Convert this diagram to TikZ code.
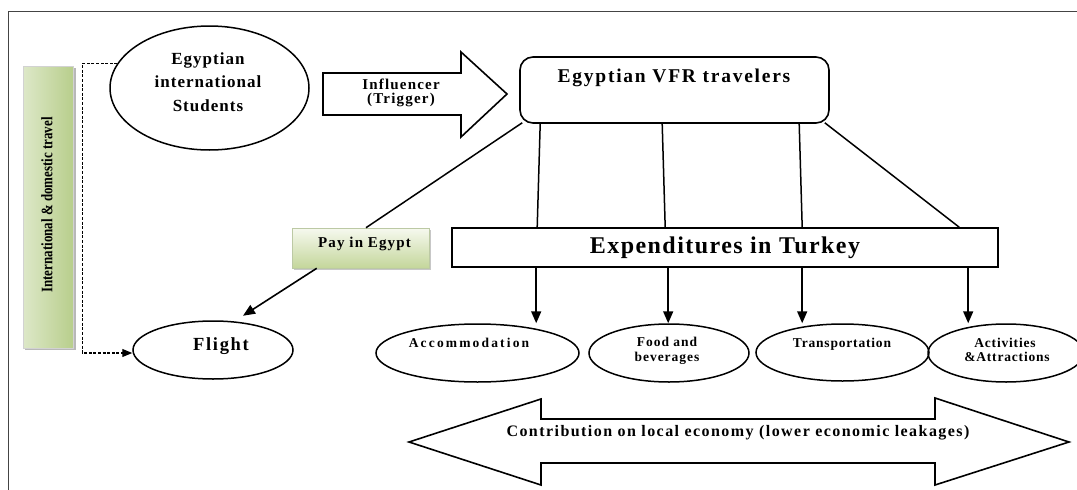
\documentclass[tikz,border=0pt]{standalone}
\usepackage{fontspec}
\setmainfont{Liberation Serif}
\usetikzlibrary{shapes.geometric,arrows.meta,calc}
\newcommand\ft[3]{\fontsize{#1}{#3}\bfseries\selectfont\addfontfeature{LetterSpace=#2}}
\definecolor{gL}{HTML}{DDE8C8}
\definecolor{gM}{HTML}{F2F6E8}
\definecolor{gR}{HTML}{B8CE8C}
\definecolor{pT}{HTML}{F6F9EF}
\definecolor{pB}{HTML}{C4D69B}
\definecolor{pD}{HTML}{BCC9A4}
\definecolor{frame}{HTML}{444444}
\begin{document}
\begin{tikzpicture}[x=1pt,y=-1pt,
  ell/.style={draw, ellipse, line width=1.5pt, inner sep=0pt},
  box/.style={draw, rectangle, line width=1.6pt, inner sep=0pt},
  txt/.style={inner sep=0pt, align=center, anchor=base},
  conn/.style={line width=1.5pt},
  arr/.style={line width=1.6pt, -{Triangle[length=12pt,width=10pt]}},
  dsh/.style={line width=1.1pt, dash pattern=on 3pt off 1.6pt, -{Triangle[length=10pt,width=8pt]}},
  blockarrow/.style={draw, line width=1.6pt, fill=white, line join=miter},
]
\useasboundingbox (0,0) rectangle (1077,490);

% outer frame
\draw[line width=1.1pt, frame] (8.5,490) -- (8.5,11.5) -- (1077,11.5);

% side label box
\fill[black!28] (25,68) rectangle (75.5,350);
\node[minimum width=50pt, minimum height=282pt, inner sep=0pt,
      left color=gL, middle color=gM, right color=gR,
      draw=gray!35, line width=0.4pt] (side) at (48,207) {};
\node[inner sep=0pt, rotate=90, font=\ft{16}{0}{16}] (sidetxt) at (47,205)
  {\scalebox{0.81}[1]{International \& domestic travel}};

% students
\node[ell, minimum width=199pt, minimum height=124pt] (stud) at (209.5,88) {};
\node[txt, font=\ft{17}{6}{17}] (st1) at (208,64) {Egyptian};
\node[txt, font=\ft{17}{6}{17}] (st2) at (208,87.5) {international};
\node[txt, font=\ft{17}{6}{17}] (st3) at (208,111.5) {Students};

% influencer block arrow
\draw[blockarrow] (323,73) -- (461,73) -- (461,52) -- (507,94) -- (461,137) -- (461,115) -- (323,115) -- cycle;
\node[txt, font=\ft{15}{8}{15}] (inf1) at (401,89.3) {Influencer};
\node[txt, font=\ft{15}{8}{15}] (inf2) at (401,103.5) {(Trigger)};

% VFR travelers
\node[box, rounded corners=13pt, minimum width=309pt, minimum height=66pt] (vfr) at (674.5,90) {};
\node[txt, font=\ft{19.5}{9}{19.5}] (vfrtxt) at (674,82.7) {Egyptian VFR travelers};

% expenditures
\node[box, minimum width=546pt, minimum height=39pt] (exp) at (725,247.5) {};
\node[txt, font=\ft{24}{6}{24}] (exptxt) at (725,253.5) {Expenditures in Turkey};

% pay in Egypt
\fill[black!22] (293.5,229.5) rectangle (430.5,269.5);
\node[minimum width=137pt, minimum height=40pt, inner sep=0pt,
      top color=pT, bottom color=pB, draw=pD, line width=0.6pt] (pay) at (360.5,248) {};
\node[txt, font=\ft{15}{7.5}{15}] (paytxt) at (364.5,247.3) {Pay in Egypt};

% flight
\node[ell, minimum width=160pt, minimum height=58pt] (flight) at (213,350) {};
\node[txt, font=\ft{18.5}{9}{18.5}] (flighttxt) at (221,350) {Flight};

% expenditure categories
\node[ell, minimum width=203pt, minimum height=58pt] (acc) at (477.5,353) {};
\node[txt, font=\ft{13.5}{16}{13.5}] (acctxt) at (469,347.3) {Accommodation};
\node[ell, minimum width=160pt, minimum height=58pt] (food) at (669,353) {};
\node[txt, font=\ft{13.5}{7}{13.5}] (food1) at (667,346.7) {Food and};
\node[txt, font=\ft{13.5}{7}{13.5}] (food2) at (667,361.7) {beverages};
\node[ell, minimum width=173pt, minimum height=57pt] (trans) at (842.5,352.5) {};
\node[txt, font=\ft{13.5}{6}{13.5}] (transtxt) at (842,347) {Transportation};
\node[ell, minimum width=156pt, minimum height=58pt] (act) at (1006,353) {};
\node[txt, font=\ft{13.5}{6}{13.5}] (act1) at (1005,347) {Activities};
\node[txt, font=\ft{13.5}{6}{13.5}] (act2) at (1007,361.7) {\&Attractions};

% contribution double arrow
\draw[blockarrow] (409,442) -- (541,399) -- (541,419) -- (935,419) -- (935,398) -- (1069,442)
  -- (935,485) -- (935,463) -- (541,463) -- (541,485) -- cycle;
\node[txt, font=\ft{16}{9}{16}] (contrib) at (738,436.7)
  {Contribution on local economy (lower economic leakages)};

% connectors
\draw[dsh] (stud.165) -- ++(-35,0) |- ([yshift=-3pt]flight.west);
\draw[conn] ($(vfr.south west)+(3,-1)$) -- ($(pay.north)+(5.5,0)$);
\draw[conn] ($(vfr.south west)+(21,0)$) -- ($(exp.north west)+(86,0)$);
\draw[conn] ($(vfr.south west)+(143,0)$) -- ($(exp.north west)+(214,0)$);
\draw[conn] ($(vfr.south west)+(280,0)$) -- ($(exp.north west)+(351,0)$);
\draw[conn] ($(vfr.south east)+(-5,-1)$) -- ($(exp.north west)+(508,0)$);
\draw[arr] ($(pay.south west)+(25,0)$) -- ($(flight.north)+(30,-4.5)$);
\draw[arr] ($(exp.south west)+(85,0)$) coordinate (d1) -- (d1 |- acc.north);
\draw[arr] ($(exp.south west)+(217,0)$) coordinate (d2) -- (d2 |- food.north);
\draw[arr] ($(exp.south west)+(351,0)$) coordinate (d3) -- (d3 |- trans.north);
\draw[arr] ($(exp.south west)+(517,0)$) coordinate (d4) -- (d4 |- act.north);
\end{tikzpicture}
\end{document}
